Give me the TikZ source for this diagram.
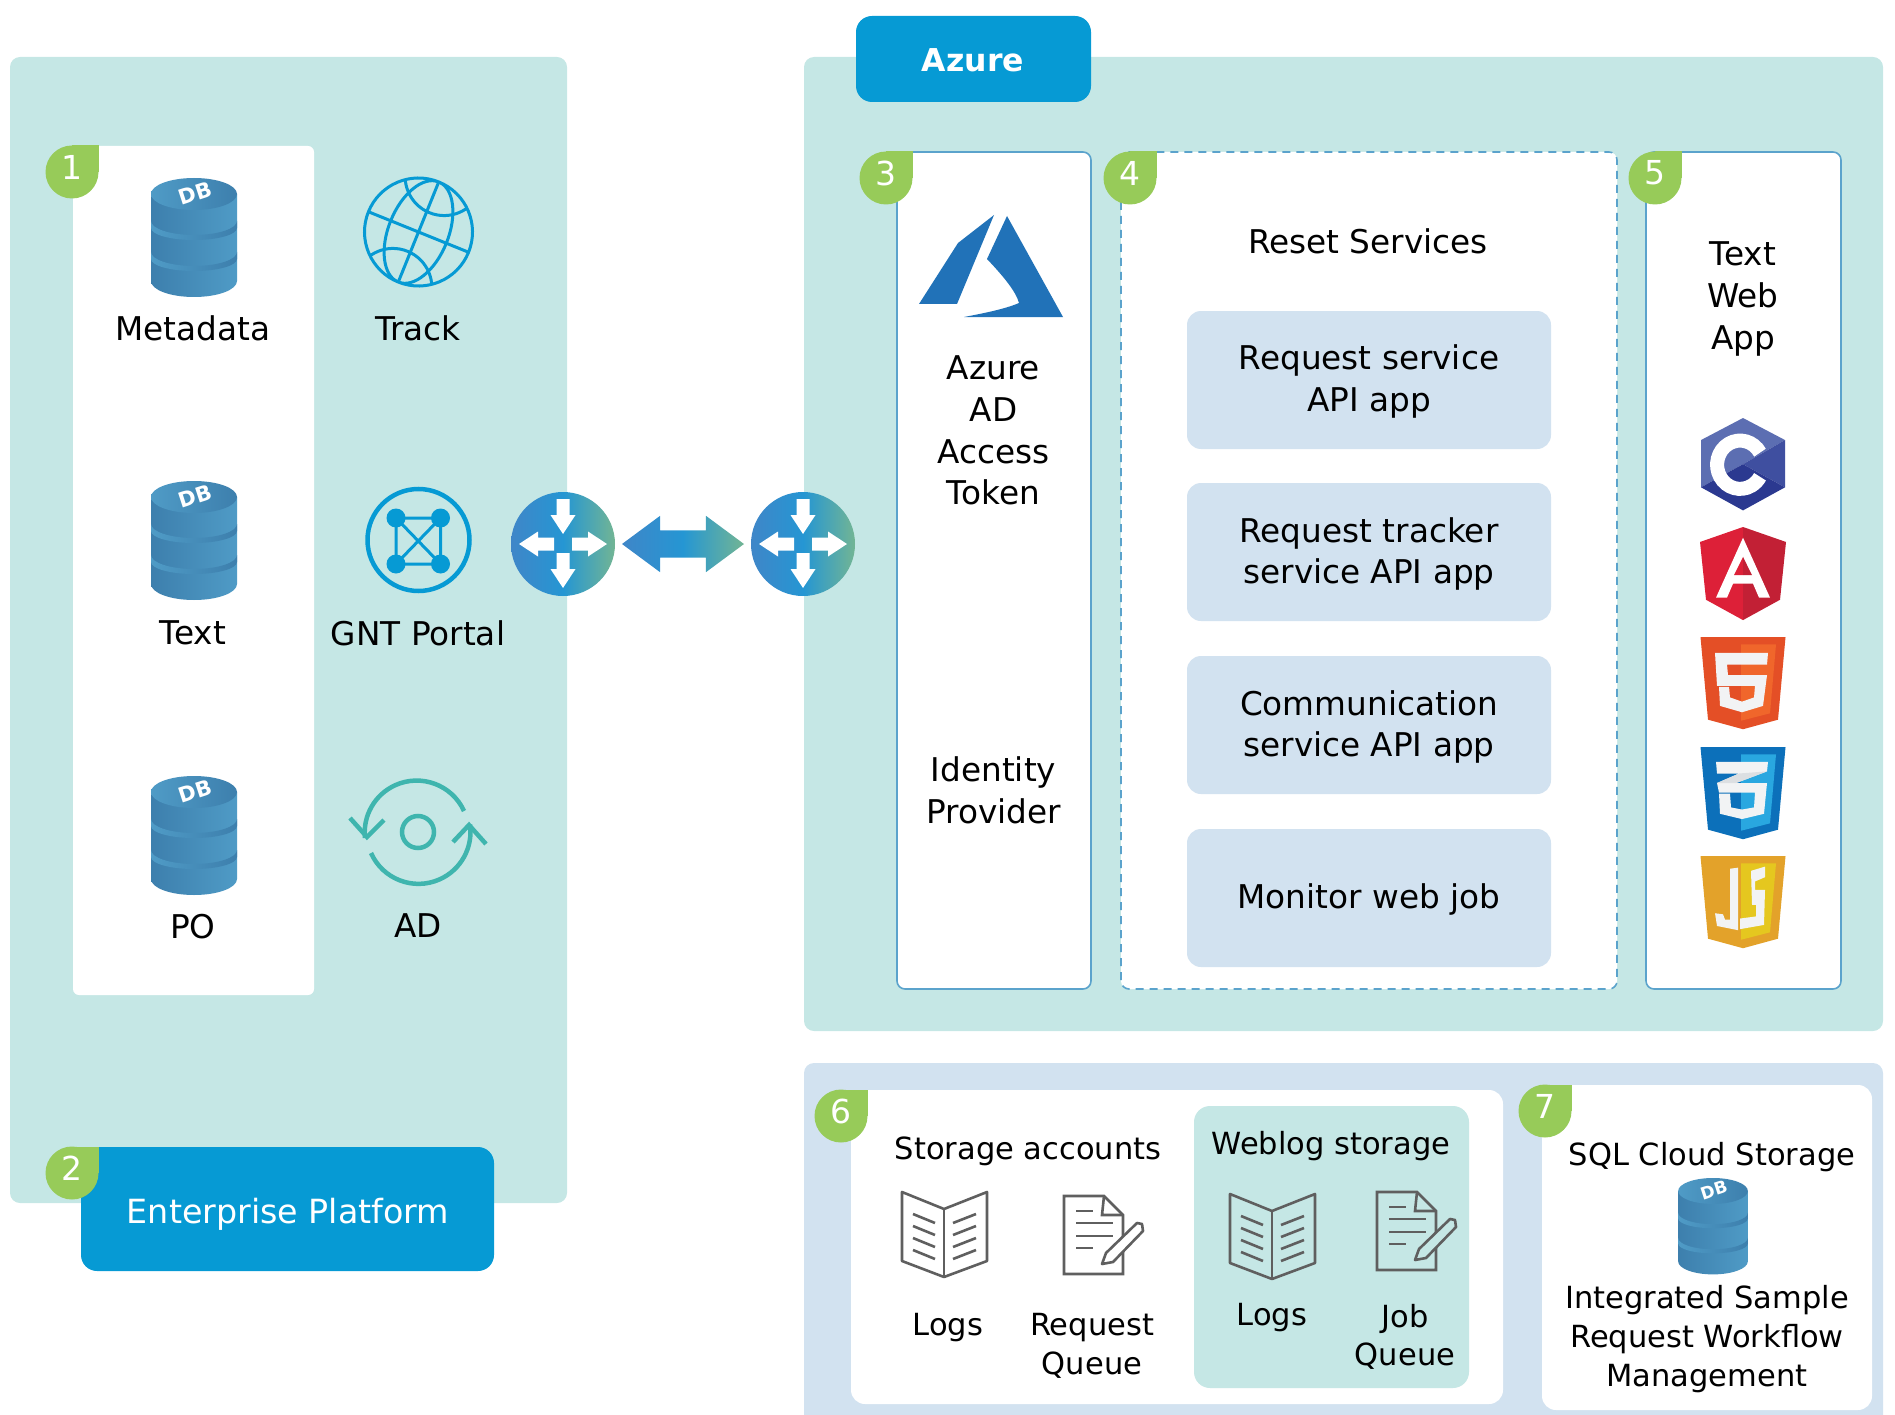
\documentclass[tikz,border=0pt]{standalone}
\usepackage{fontspec}
\setmainfont{DejaVu Sans}
\usetikzlibrary{shapes.arrows}

\definecolor{tealpanel}{HTML}{C5E7E5}
\definecolor{bluepanel}{HTML}{D2E2F0}
\definecolor{azureblue}{HTML}{069AD4}
\definecolor{boxline}{HTML}{5BA3CC}
\definecolor{badgegreen}{HTML}{97CB59}
\definecolor{syncteal}{HTML}{3FB5AE}
\definecolor{iconGray}{HTML}{5F5F5F}
\definecolor{glyphwhite}{HTML}{F2F3F4}
\definecolor{gradA}{HTML}{3F86C8}
\definecolor{gradB}{HTML}{2596D3}
\definecolor{gradC}{HTML}{72B594}
\definecolor{dbdark}{HTML}{3D7FAD}
\definecolor{dblight}{HTML}{4F9BC6}
\definecolor{azurelogo}{HTML}{2172B8}
\definecolor{cupper}{HTML}{5C6EB2}
\definecolor{cright}{HTML}{3F4FA0}
\definecolor{clower}{HTML}{2B3990}
\definecolor{ngleft}{HTML}{DD2038}
\definecolor{ngright}{HTML}{C22035}
\definecolor{htmldark}{HTML}{E44F26}
\definecolor{htmllight}{HTML}{F0662B}
\definecolor{cssdark}{HTML}{0C70BA}
\definecolor{csslight}{HTML}{29A7E0}
\definecolor{cssgray}{HTML}{DCDFE2}
\definecolor{jsdark}{HTML}{E3A22A}
\definecolor{jslight}{HTML}{E5C71F}

\tikzset{
  lbl/.style = {align = center, font = \fontsize{32.7}{41.7}\selectfont},
  lblsmall/.style = {align = center, font = \fontsize{30.5}{38.7}\selectfont},
  badgenum/.style = {text = white, font = \fontsize{33}{33}\selectfont, inner sep = 0},
  servicebox/.style = {fill = bluepanel, rounded corners = 14},
  columnbox/.style = {draw = boxline, line width = 1.6, fill = white, rounded corners = 8},
  titlebox/.style = {fill = azureblue, rounded corners = 16},
  linkarrow/.style = {double arrow, minimum height = 122, minimum width = 56,
    double arrow head extend = 14.5, double arrow tip angle = 73, inner sep = 13.5,
    left color = gradA, right color = gradC, middle color = gradB},
  iconline/.style = {draw = iconGray, line width = 2.6},
  pics/router/.style = {code = {
    \shade[left color = gradA, right color = gradC, middle color = gradB] (0, 0) circle (52);
    \foreach \ax/\ay/\ar in {0/-45/-90, 0/9/-90, -9/0/180, 9/0/0}
      \fill[white, shift = {(\ax, \ay)}, rotate = \ar]
        (0, -6.5) -- (16, -6.5) -- (16, -12.5) -- (35, 0) -- (16, 12.5) -- (16, 6.5) -- (0, 6.5) -- cycle;
  }},
  pics/dbicon/.style = {code = {
    \shade[left color = dbdark, right color = dblight]
      (-43, 16) -- (-43, 103) arc[start angle = 180, end angle = 0, x radius = 43, y radius = 16]
      -- (43, 16) -- cycle;
    \foreach \dy in {0, 31}
      \shade[left color = dblight, right color = dbdark, shift = {(0, \dy)}]
        (-43, 43) arc[start angle = 180, end angle = 0, x radius = 43, y radius = 14]
        -- (43, 50) arc[start angle = 0, end angle = 180, x radius = 43, y radius = 12] -- cycle;
    \shade[left color = dblight, right color = dbdark] (0, 16) ellipse (43 and 16);
    \node[text = white, font = \bfseries\fontsize{21}{21}\selectfont, rotate = 18, transform shape, inner sep = 0] at (1, 15) {DB};
  }},
  pics/bookicon/.style = {code = {
    \draw[iconline, line join = round] (-42, 0) -- (0, 17) -- (43, 0) -- (43, 69) -- (0, 85) -- (-42, 69) -- cycle;
    \draw[iconline] (0, 17) -- (0, 85);
    \foreach \dy in {0, 12, 24, 36} {
      \draw[iconline] (-31, 22 + \dy) -- (-9, 31 + \dy);
      \draw[iconline] (9, 31 + \dy) -- (32, 22 + \dy);
    }
  }},
  pics/noteicon/.style = {code = {
    \draw[iconline] (0, 0) -- (40, 0) -- (59, 19) -- (59, 78) -- (0, 78) -- cycle;
    \draw[iconline] (40, 0) -- (38, 19) -- (59, 19);
    \draw[iconline] (12, 15) -- (29, 15);
    \draw[iconline] (12, 27) -- (49, 27);
    \draw[iconline] (12, 40) -- (49, 40);
    \draw[iconline] (12, 52) -- (29, 52);
    \draw[iconline, fill = #1, line join = round]
      (38, 68) -- (42, 57) -- (73, 27) -- (78, 28) -- (79, 35) -- (49, 66) -- cycle;
  }},
  pics/shield/.style 2 args = {code = {
    \fill[#1] (-42.5, 0) -- (42.5, 0) -- (35, 78) -- (0, 87) -- (-35, 78) -- cycle;
    \fill[#2] (-2, 7) -- (33, 7) -- (27, 72) -- (-2, 79) -- cycle;
  }}
}

% numbered green drop: centre x, centre y, number
\newcommand{\dropbadge}[3]{
  \fill[badgegreen] (#1, #2) circle (26.5);
  \fill[badgegreen] (#1, #2) rectangle ++(26.5, -26.5);
  \node[badgenum] (badge#3) at (#1, #2 - 5) {#3};
}

\begin{document}
\begin{tikzpicture}[x = 1pt, y = -1pt]
  \useasboundingbox (0, 0) rectangle (1895, 1415);

  % panels
  \fill[tealpanel, rounded corners = 10] (10, 57) rectangle (567, 1203);
  \fill[tealpanel, rounded corners = 10] (804, 57) rectangle (1883, 1031);
  \fill[bluepanel, rounded corners = 10] (804, 1063) rectangle (1883, 1450);
  \fill[white, rounded corners = 6] (73, 146) rectangle (314, 995);
  \fill[titlebox] (856, 16) rectangle (1091, 102);
  \fill[titlebox] (81, 1147) rectangle (494, 1271);
  \node[text = white, font = \bfseries\fontsize{31.5}{31.5}\selectfont] (Azure) at (973, 60) {Azure};
  \node[text = white, font = \fontsize{33.3}{33.3}\selectfont] (Enterprise) at (288, 1214) {Enterprise Platform};

  \path[columnbox] (897, 152) rectangle (1091, 989);
  \path[columnbox, dash pattern = on 8 off 6] (1121, 152) rectangle (1617, 989);
  \path[columnbox] (1646, 152) rectangle (1841, 989);
  \fill[white, rounded corners = 14] (851, 1090) rectangle (1503, 1404);
  \fill[white, rounded corners = 14] (1542, 1085) rectangle (1872, 1410);
  \fill[tealpanel, rounded corners = 16] (1194, 1106) rectangle (1469, 1388);

  % enterprise platform icons
  \pic (DBmeta) at (194, 178) {dbicon};
  \pic (DBtext) at (194, 481) {dbicon};
  \pic (DBpo) at (194, 776) {dbicon};
  \node[lbl] (Metadata) at (193, 328) {Metadata};
  \node[lbl] (Text) at (193, 633) {Text};
  \node[lbl] (PO) at (193, 927) {PO};
  \node[lbl] (Track) at (418, 328) {Track};
  \node[lbl] (GNT) at (418, 633) {GNT Portal};
  \node[lbl] (AD) at (418, 926) {AD};

  % globe
  \begin{scope}[shift = {(418.5, 232)}, rotate = -22, azureblue, line width = 3]
    \draw (0, 0) circle (54);
    \clip (0, 0) circle (54);
    \draw (0, 0) ellipse (30 and 54);
    \draw (-54, 0) -- (54, 0);
    \draw (0, -54) -- (0, 54);
    \draw (3, -61) circle (39);
    \draw (-3, 61) circle (39);
  \end{scope}

  % portal
  \draw[azureblue, line width = 4.5] (418.5, 540) circle (51);
  \draw[azureblue, line width = 3] (396, 518) rectangle (440.5, 564)
    (396, 518) -- (440.5, 564) (440.5, 518) -- (396, 564);
  \foreach \px/\py in {396/518, 440.5/518, 396/564, 440.5/564}
    \fill[azureblue] (\px, \py) circle (9.5);

  % sync
  \begin{scope}[shift = {(418, 832)}, syncteal, line width = 4.5]
    \draw (0, 0) circle (16);
    \draw (46, -21) arc[start angle = -24.5, end angle = -186, radius = 52];
    \draw (-47, 21) arc[start angle = 156, end angle = -8, radius = 52];
    \draw (-68, -14) -- (-51, 5) -- (-34, -12);
    \draw (35, 10) -- (51, -7) -- (68, 12);
  \end{scope}

  % routers and link
  \pic (RouterL) at (563, 544) {router};
  \pic (RouterR) at (803, 544) {router};
  \node[linkarrow] (Link) at (683, 544) {};

  % azure column
  \fill[azurelogo] (994, 215) -- (958, 243) -- (919, 304) -- (957, 304) -- cycle;
  \fill[azurelogo] (1007, 216) -- (987, 259) .. controls (1005, 278) and (1016, 292) .. (1019, 303)
    .. controls (1005, 309) and (985, 313) .. (964, 317) -- (1063, 317) -- cycle;
  \node[lbl] (Token) at (993.5, 430.5) {Azure\\AD\\Access\\Token};
  \node[lbl] (Identity) at (993.5, 790.5) {Identity\\Provider};

  % reset services
  \node[lbl] (Reset) at (1368, 241) {Reset Services};
  \fill[servicebox] (1187, 311) rectangle (1551, 449);
  \fill[servicebox] (1187, 483) rectangle (1551, 621);
  \fill[servicebox] (1187, 656) rectangle (1551, 794);
  \fill[servicebox] (1187, 829) rectangle (1551, 967);
  \node[lbl] (Request) at (1369, 381.5) {Request service\\API app};
  \node[lbl] (Tracker) at (1369, 554) {Request tracker\\service API app};
  \node[lbl] (Comm) at (1369, 727) {Communication\\service API app};
  \node[lbl] (Monitor) at (1369, 899) {Monitor web job};

  % web app column
  \node[lbl] (WebApp) at (1743, 299) {Text\\Web\\App};
  \begin{scope}[shift = {(1743, 418)}, yscale = 1.05]
    \fill[cupper] (0, 0) -- (42, 21) -- (0, 44) -- (-42, 66) -- (-42, 21) -- cycle;
    \fill[cright] (42, 21) -- (42, 66) -- (0, 44) -- cycle;
    \fill[clower] (-42, 66) -- (0, 44) -- (42, 66) -- (0, 88) -- cycle;
    \draw[white, line width = 14] (17, 33) arc[start angle = -30, end angle = -330, radius = 23];
  \end{scope}
  \begin{scope}[shift = {(1743, 527)}, yscale = 1.07]
    \fill[ngleft] (0, 0) -- (-43, 14) -- (-37, 68) -- (0, 87) -- cycle;
    \fill[ngright] (0, 0) -- (43, 14) -- (37, 68) -- (0, 87) -- cycle;
    \fill[white] (0, 10) -- (27, 66) -- (16, 66) -- (10, 53) -- (-10, 53) -- (-16, 66) -- (-27, 66) -- cycle;
    \fill[ngleft] (0, 28) -- (-9, 45) -- (0, 45) -- cycle;
    \fill[ngright] (0, 28) -- (9, 45) -- (0, 45) -- cycle;
  \end{scope}
  \pic[yscale = 1.06] (Html) at (1743, 637) {shield = {htmldark}{htmllight}};
  \fill[glyphwhite, shift = {(1743, 637)}, yscale = 1.06] (-28, 15) -- (25, 15) -- (24, 26) -- (-16, 26) -- (-15, 36) -- (24, 36)
    -- (20, 65) -- (-1, 71) -- (-23, 65) -- (-24, 47) -- (-14, 47) -- (-13, 57) -- (-1, 61) -- (11, 57)
    -- (12, 46) -- (-26, 46) -- cycle;
  \pic[yscale = 1.06] (Css) at (1743, 747) {shield = {cssdark}{csslight}};
  \fill[glyphwhite, shift = {(1743, 747)}, yscale = 1.06] (-27, 14) -- (25, 14) -- (24, 23) -- (-7, 34) -- (24, 34)
    -- (21, 63) -- (-1, 68) -- (-23, 63) -- (-24, 44) -- (-13, 44) -- (-12, 57) -- (-1, 59) -- (11, 57)
    -- (12, 43) -- (-24, 43) -- (-26, 34) -- (-4, 25) -- (-26, 25) -- cycle;
  \fill[cssgray, shift = {(1743, 747)}, yscale = 1.06] (-26, 34) -- (-4, 25) -- (24, 23) -- (-7, 34) -- cycle;
  \pic[yscale = 1.06] (Js) at (1743, 856) {shield = {jsdark}{jslight}};
  \fill[glyphwhite, shift = {(1743, 856)}, yscale = 1.06] (-13, 12) -- (-5, 11) -- (-5, 70) -- (-26, 66) -- (-28, 54) -- (-20, 55)
    -- (-18, 60) -- (-13, 60) -- cycle;
  \fill[glyphwhite, shift = {(1743, 856)}, yscale = 1.06] (8, 14) -- (22, 10) -- (22, 20) -- (12, 24) -- (12, 32) -- (22, 32)
    -- (21, 65) -- (-3, 69) -- (-3, 59) -- (13, 57) -- (13, 46) -- (9, 46) -- cycle;

  % storage
  \node[lblsmall] (Storage) at (1028, 1151.5) {Storage accounts};
  \node[lblsmall] (Weblog) at (1331, 1146) {Weblog storage};
  \node[lblsmall] (SqlCloud) at (1712, 1157) {SQL Cloud Storage};
  \pic (BookA) at (944, 1192) {bookicon};
  \pic (BookB) at (1272, 1194) {bookicon};
  \pic (NoteA) at (1064, 1196) {noteicon = white};
  \pic (NoteB) at (1377, 1192) {noteicon = tealpanel};
  \node[lblsmall] (LogsA) at (948, 1328) {Logs};
  \node[lblsmall] (ReqQueue) at (1092, 1346) {Request\\Queue};
  \node[lblsmall] (LogsB) at (1272, 1318) {Logs};
  \node[lblsmall] (JobQueue) at (1405, 1337) {Job\\Queue};
  \pic[scale = 0.81] (DBsql) at (1713, 1178) {dbicon};
  \node[lblsmall] (Integrated) at (1707, 1339) {Integrated Sample\\Request Workflow\\Management};

  % badges
  \dropbadge{72}{172}{1}
  \dropbadge{72}{1173}{2}
  \dropbadge{886}{178}{3}
  \dropbadge{1130}{178}{4}
  \dropbadge{1655}{178}{5}
  \dropbadge{841}{1116}{6}
  \dropbadge{1545}{1111}{7}
\end{tikzpicture}
\end{document}
